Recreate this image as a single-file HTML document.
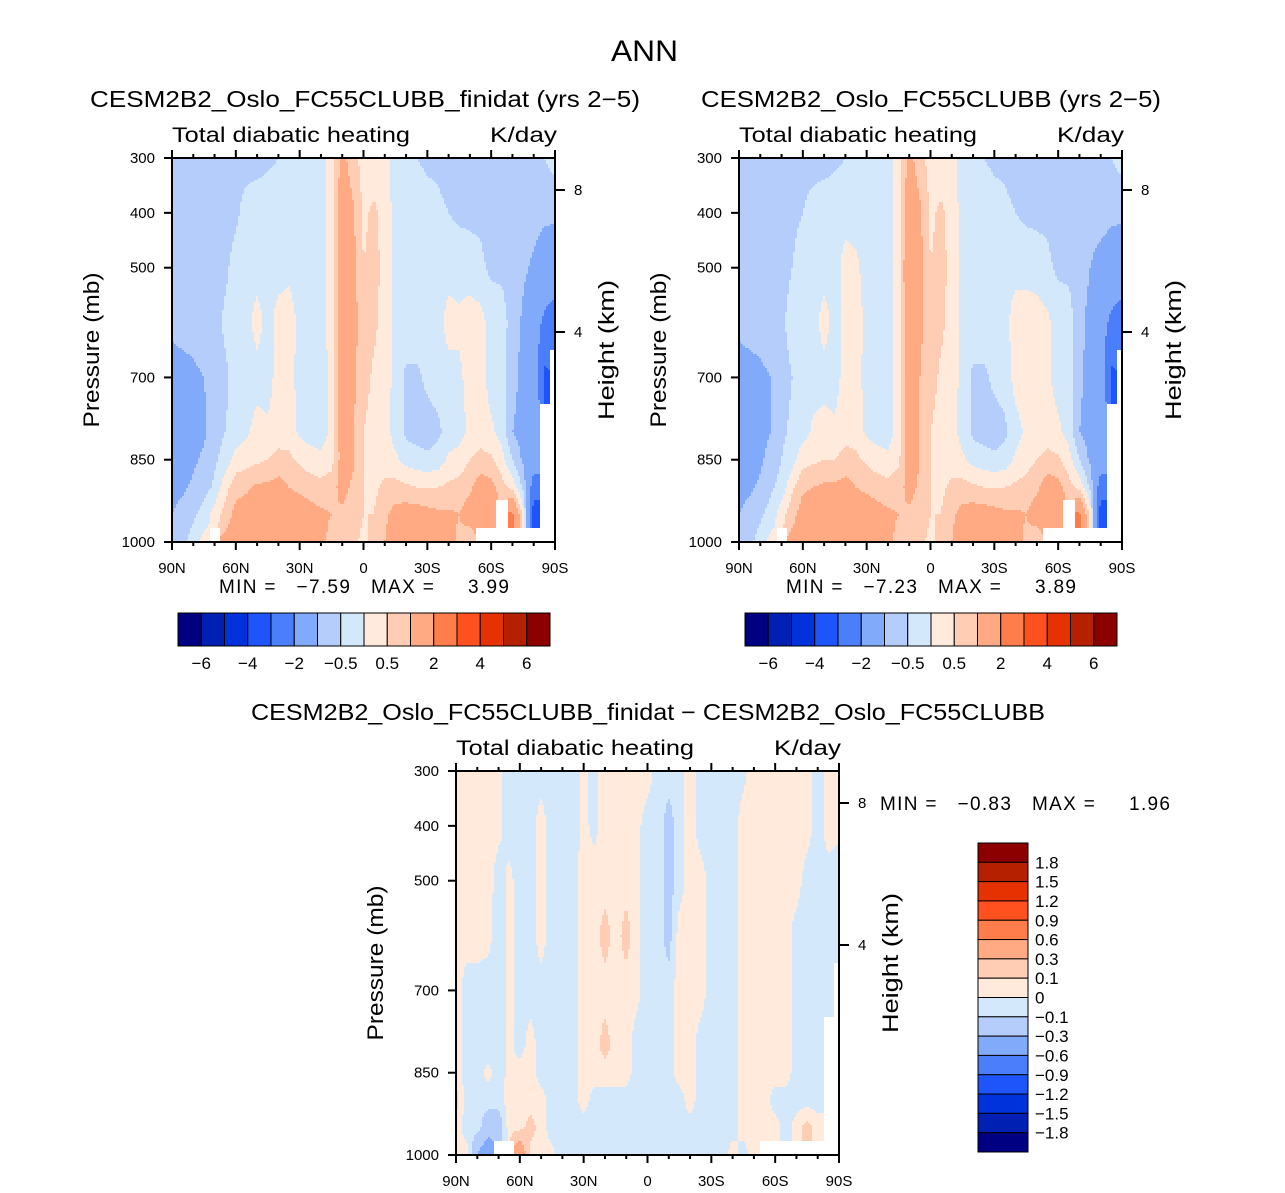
<!DOCTYPE html>
<html><head><meta charset="utf-8"><style>
html,body{margin:0;padding:0;background:#fff;}
svg{display:block;font-family:"Liberation Sans",sans-serif;}
text{white-space:pre;}
</style></head><body>
<svg id="root" width="1285" height="1193" viewBox="0 0 1285 1193">
<text x="611" y="61" font-size="30" textLength="67" lengthAdjust="spacingAndGlyphs">ANN</text>
</svg>
<script>
// latitude columns 90N..90S every 5 deg; pressure levels
const lats = [90,85,80,75,70,65,60,55,50,45,40,35,30,25,20,15,10,5,0,-5,-10,-15,-20,-25,-30,-35,-40,-45,-50,-55,-60,-65,-70,-75,-80,-85,-90];
const levels = [300,400,500,600,700,800,850,900,950,1000];
const N = NaN;
const fieldA = [
[-0.7,-0.7,-0.7,-0.9,-1.2,-1.3,-1.3,-1.2,-1.0,-0.8],
[-0.7,-0.7,-0.7,-0.8,-1.2,-1.3,-1.3,-1.1,-0.8,-0.6],
[-0.7,-0.7,-0.7,-0.8,-1.1,-1.2,-1.1,-0.9,-0.6,-0.3],
[-0.7,-0.7,-0.7,-0.7,-1.0,-1.1,-0.9,-0.7,-0.3,0.2],
[-0.7,-0.7,-0.7,-0.7,-0.8,-0.7,-0.6,-0.4,0.2,N],
[-0.7,-0.7,-0.6,-0.4,-0.6,-0.5,-0.3,0.3,0.7,1.2],
[-0.7,-0.6,-0.3,-0.3,-0.3,-0.3,0.2,0.8,1.2,1.3],
[-0.7,-0.3,-0.2,-0.2,-0.3,-0.1,0.3,0.9,1.3,1.4],
[-0.7,-0.2,-0.2,0.2,-0.2,0.2,0.4,1.1,1.4,1.4],
[-0.6,-0.2,-0.2,-0.2,-0.2,0.1,0.5,1.1,1.4,1.3],
[-0.5,-0.2,-0.2,0.2,0.2,0.2,0.7,1.2,1.3,1.0],
[-0.5,-0.2,-0.1,0.2,0.2,0.3,0.6,1.0,1.3,1.2],
[-0.4,-0.2,-0.2,-0.1,-0.2,-0.1,0.4,0.9,1.3,1.3],
[-0.3,-0.2,-0.2,-0.2,-0.2,-0.2,0.2,0.8,1.2,1.2],
[-0.2,-0.2,-0.2,-0.2,-0.2,-0.2,0.1,0.7,1.1,1.2],
[0.3,0.3,0.2,0.2,0.1,0.1,0.3,0.8,1.0,0.8],
[1.2,1.5,1.6,1.6,1.5,1.4,1.3,1.2,0.9,0.6],
[0.7,1.1,1.2,1.2,1.1,1.1,1.1,0.9,0.7,0.6],
[0.3,0.4,0.5,0.8,0.7,0.5,0.5,0.5,0.5,0.4],
[0.2,0.6,0.7,0.6,0.4,0.3,0.3,0.4,0.5,0.6],
[0.2,0.3,0.3,0.3,0.3,0.2,0.3,0.6,0.9,1.0],
[-0.2,-0.2,-0.2,-0.2,-0.2,-0.2,0.1,0.7,1.2,1.3],
[-0.3,-0.2,-0.2,-0.2,-0.6,-0.6,-0.2,0.6,1.3,1.4],
[-0.5,-0.2,-0.2,-0.2,-0.6,-0.7,-0.3,0.5,1.3,1.4],
[-0.6,-0.3,-0.2,-0.2,-0.4,-0.7,-0.4,0.5,1.2,1.4],
[-0.6,-0.4,-0.2,-0.2,-0.3,-0.6,-0.3,0.5,1.1,1.3],
[-0.7,-0.5,-0.2,0.2,-0.2,-0.3,0.1,0.6,1.1,1.2],
[-0.7,-0.6,-0.2,0.1,-0.1,-0.2,0.2,0.7,1.0,0.9],
[-0.7,-0.6,-0.3,0.3,0.2,0.1,0.5,0.9,1.3,0.6],
[-0.7,-0.6,-0.4,0.2,0.2,0.2,0.7,1.3,1.6,N],
[-0.7,-0.7,-0.6,-0.2,-0.2,0.1,0.6,1.2,1.8,N],
[-0.7,-0.7,-0.6,-0.3,-0.3,-0.2,0.2,0.7,N,N],
[-0.7,-0.7,-0.7,-0.7,-0.8,-1.0,-0.5,0.3,2.2,N],
[-0.6,-0.7,-0.9,-1.1,-1.2,-1.2,-1.1,-0.6,0.3,N],
[-0.5,-0.8,-1.1,-1.5,-1.3,-1.3,-1.5,-2.5,-3.5,N],
[-0.5,-0.9,-1.3,-2.2,-3.2,N,N,N,N,N],
[-0.3,-0.9,-1.4,-2.5,N,N,N,N,N,N]
];
const fieldB = [
[-0.7,-0.7,-0.7,-0.9,-1.2,-1.3,-1.3,-1.2,-1.0,-0.8],
[-0.7,-0.7,-0.7,-0.8,-1.2,-1.3,-1.3,-1.1,-0.8,-0.6],
[-0.7,-0.7,-0.7,-0.8,-1.1,-1.2,-1.1,-0.9,-0.6,-0.3],
[-0.7,-0.7,-0.7,-0.7,-1.0,-1.0,-0.8,-0.6,-0.3,0.2],
[-0.7,-0.7,-0.7,-0.6,-0.7,-0.6,-0.5,-0.3,0.3,N],
[-0.7,-0.6,-0.5,-0.3,-0.5,-0.4,-0.2,0.4,0.8,1.2],
[-0.7,-0.5,-0.3,-0.3,-0.3,-0.2,0.3,0.9,1.3,1.3],
[-0.7,-0.3,-0.2,-0.2,-0.2,0.1,0.4,1.0,1.4,1.4],
[-0.7,-0.2,-0.2,0.2,-0.2,0.2,0.5,1.1,1.4,1.4],
[-0.6,-0.2,-0.2,-0.2,-0.2,0.1,0.5,1.1,1.4,1.3],
[-0.5,-0.2,0.2,0.2,0.2,0.3,0.7,1.2,1.3,1.0],
[-0.5,-0.2,0.1,0.2,0.2,0.3,0.6,1.0,1.3,1.2],
[-0.4,-0.2,-0.2,-0.1,-0.2,-0.1,0.4,0.9,1.3,1.3],
[-0.3,-0.2,-0.2,-0.2,-0.2,-0.2,0.2,0.8,1.2,1.2],
[-0.2,-0.2,-0.2,-0.2,-0.2,-0.2,0.1,0.7,1.1,1.2],
[0.3,0.3,0.3,0.3,0.2,0.2,0.4,0.8,1.0,0.8],
[1.2,1.5,1.7,1.6,1.5,1.4,1.3,1.2,0.9,0.6],
[0.7,1.1,1.2,1.1,1.0,1.0,1.0,0.9,0.7,0.6],
[0.3,0.4,0.5,0.8,0.7,0.5,0.5,0.5,0.5,0.4],
[0.2,0.6,0.7,0.6,0.4,0.3,0.3,0.4,0.5,0.6],
[0.2,0.3,0.3,0.3,0.3,0.2,0.3,0.6,0.9,1.0],
[-0.2,-0.2,-0.2,-0.2,-0.2,-0.2,0.1,0.7,1.2,1.3],
[-0.3,-0.2,-0.2,-0.2,-0.6,-0.6,-0.2,0.6,1.3,1.4],
[-0.5,-0.2,-0.2,-0.2,-0.6,-0.7,-0.3,0.5,1.3,1.4],
[-0.6,-0.3,-0.2,-0.2,-0.4,-0.7,-0.4,0.5,1.2,1.4],
[-0.6,-0.4,-0.2,-0.2,-0.3,-0.6,-0.3,0.5,1.1,1.3],
[-0.7,-0.5,-0.2,0.3,0.2,-0.2,0.1,0.6,1.1,1.2],
[-0.7,-0.6,-0.2,0.3,0.3,0.1,0.3,0.7,1.0,0.9],
[-0.7,-0.6,-0.3,0.3,0.2,0.1,0.5,0.9,1.3,0.6],
[-0.7,-0.6,-0.4,0.1,0.1,0.2,0.7,1.3,1.6,N],
[-0.7,-0.7,-0.6,-0.2,-0.2,0.1,0.6,1.2,1.8,N],
[-0.7,-0.7,-0.6,-0.3,-0.3,-0.2,0.2,0.7,N,N],
[-0.7,-0.7,-0.7,-0.8,-0.9,-1.0,-0.5,0.3,2.2,N],
[-0.6,-0.8,-1.0,-1.2,-1.2,-1.2,-1.1,-0.6,0.3,N],
[-0.5,-0.8,-1.2,-1.6,-1.4,-1.3,-1.5,-2.5,-3.5,N],
[-0.5,-0.9,-1.3,-2.2,-3.2,N,N,N,N,N],
[-0.3,-0.9,-1.4,-2.5,N,N,N,N,N,N]
];
const fieldD = [
[0.05,0.05,0.05,0.05,0.05,0.05,0.05,0.15,0.05,0.05],
[0.05,0.05,0.05,0.05,-0.05,-0.05,-0.05,-0.05,-0.05,0.05],
[0.05,0.05,0.05,0.05,-0.05,-0.05,-0.05,-0.05,-0.05,-0.3],
[0.05,0.05,0.05,0.03,-0.05,-0.05,0.03,-0.05,-0.2,-0.5],
[0.03,0.03,-0.05,-0.05,-0.05,-0.05,-0.05,-0.05,-0.2,N],
[-0.05,-0.05,0.03,0.03,0.03,0.03,0.03,0.05,0.05,N],
[-0.05,-0.05,-0.05,-0.05,-0.05,-0.05,0.05,0.05,0.05,0.6],
[-0.05,-0.05,-0.05,-0.05,-0.05,0.05,0.05,0.05,0.15,0.05],
[-0.05,0.05,0.05,0.05,-0.05,-0.05,-0.05,0.05,0.05,0.05],
[-0.05,-0.05,-0.05,-0.05,-0.05,-0.05,-0.05,-0.05,-0.05,0.03],
[-0.05,-0.05,-0.05,-0.05,-0.05,-0.05,-0.05,-0.05,-0.05,-0.05],
[-0.05,-0.05,-0.05,-0.05,-0.05,-0.05,-0.05,-0.05,-0.05,-0.05],
[0.03,0.03,0.05,0.05,0.05,0.05,0.05,0.05,-0.05,-0.05],
[-0.03,-0.03,0.05,0.05,0.05,0.05,0.05,-0.05,-0.05,-0.05],
[0.05,0.05,0.05,0.15,0.05,0.15,0.05,-0.05,-0.05,-0.05],
[0.05,0.05,0.05,0.05,0.05,0.05,0.05,-0.05,-0.05,-0.05],
[0.05,0.05,0.05,0.15,0.05,0.05,0.05,-0.05,-0.05,-0.05],
[0.05,0.03,0.03,0.03,0.03,-0.05,-0.05,-0.05,-0.05,-0.05],
[0.05,-0.05,-0.05,-0.05,-0.05,-0.05,-0.05,-0.05,-0.05,-0.05],
[-0.05,-0.05,-0.05,-0.05,-0.05,-0.05,-0.05,-0.05,-0.05,-0.05],
[-0.05,-0.15,-0.15,-0.15,-0.05,-0.05,-0.05,-0.05,-0.05,-0.05],
[-0.05,-0.05,-0.05,0.05,0.05,0.05,0.05,-0.05,-0.05,-0.05],
[0.05,0.05,0.05,0.05,0.05,0.05,0.05,0.05,-0.05,-0.05],
[-0.05,-0.05,0.05,0.05,0.05,-0.05,-0.05,-0.05,-0.05,-0.05],
[-0.05,-0.05,-0.05,-0.05,-0.05,-0.05,-0.05,-0.05,-0.05,-0.05],
[-0.05,-0.05,-0.05,-0.05,-0.05,-0.05,-0.05,-0.05,-0.05,-0.05],
[-0.05,-0.05,-0.05,-0.05,-0.05,-0.05,-0.05,-0.05,-0.05,0.05],
[-0.03,0.05,0.05,0.05,0.05,0.05,0.05,0.05,0.05,-0.05],
[0.05,0.05,0.05,0.05,0.05,0.05,0.05,0.05,0.05,0.05],
[0.05,0.05,0.05,0.05,0.05,0.05,0.05,0.05,0.05,N],
[0.05,0.05,0.05,0.05,0.05,0.05,0.05,-0.05,0.05,N],
[0.05,0.05,0.05,0.05,0.05,0.05,0.05,-0.05,-0.05,N],
[0.05,0.05,0.05,-0.05,-0.05,-0.05,-0.05,-0.05,0.05,N],
[0.05,0.05,-0.05,-0.05,-0.05,-0.05,-0.05,-0.05,0.15,N],
[-0.05,-0.05,-0.05,-0.05,-0.05,-0.05,-0.05,-0.05,0.05,N],
[0.05,0.05,-0.05,-0.05,-0.05,N,N,N,N,N],
[0.05,0.05,-0.1,-0.1,N,N,N,N,N,N]
];
const colors = ['#000082','#0020b4','#0032dc','#1e55fa','#4a7efa','#82aafa','#b4cdfa','#d4e8fc','#ffeadb','#ffcdb4','#ffaa82','#ff7d4b','#ff5020','#e63200','#b42000','#8c0000'];
const bounds = [-6,-5,-4,-3,-2,-1,-0.5,0,0.5,1,2,3,4,5,6];
const boundLabels = ['-6','','-4','','-2','','-0.5','','0.5','','2','','4','','6'];
const dbounds = [-1.8,-1.5,-1.2,-0.9,-0.6,-0.3,-0.1,0,0.1,0.3,0.6,0.9,1.2,1.5,1.8];
const dLabels = ['−1.8','−1.5','−1.2','−0.9','−0.6','−0.3','−0.1','0','0.1','0.3','0.6','0.9','1.2','1.5','1.8'];
const pTicks = [300,400,500,700,850,1000];
const latTicks = [90,60,30,0,-30,-60,-90];
const latTickLabels = ['90N','60N','30N','0','30S','60S','90S'];
const hTicks = [8,4];
const hTickPos = [32,174];

const NS='http://www.w3.org/2000/svg';
const root=document.getElementById('root');
function mk(tag,attrs,parent){const e=document.createElementNS(NS,tag);for(const k in attrs)e.setAttribute(k,attrs[k]);(parent||root).appendChild(e);return e;}
function txt(x,y,s,size,anchor,parent,len,adj){const a={x:x,y:y,'font-size':size,'text-anchor':anchor||'start'};if(len){a.textLength=len;a.lengthAdjust=adj||'spacingAndGlyphs';}const t=mk('text',a,parent);t.textContent=s.replace(/-/g,'−');return t;}

function classOf(v,b){let c=0;while(c<b.length&&v>=b[c])c++;return c;}
function sample(field,lat,p){
  let fi=(90-lat)/5; if(fi<0)fi=0; if(fi>lats.length-1)fi=lats.length-1;
  let j=0;while(j<levels.length-2&&p>levels[j+1])j++;
  let fj=j+(p-levels[j])/(levels[j+1]-levels[j]); if(fj<0)fj=0; if(fj>levels.length-1)fj=levels.length-1;
  const ni=Math.round(fi),nj=Math.round(fj);
  if(isNaN(field[ni][nj]))return NaN;
  const i0=Math.min(Math.floor(fi),lats.length-2),j0=Math.min(Math.floor(fj),levels.length-2);
  const tx=fi-i0,ty=fj-j0;let s=0,w=0;
  [[0,0,(1-tx)*(1-ty)],[1,0,tx*(1-ty)],[0,1,(1-tx)*ty],[1,1,tx*ty]].forEach(([a,b,ww])=>{const v=field[i0+a][j0+b];if(!isNaN(v)&&ww>0){s+=v*ww;w+=ww;}});
  return w>0?s/w:field[ni][nj];
}

function panel(name,x0,y0,field,b,mm,showMM){
  const W=383,H=384;
  const g=mk('g',{});
  
  
  const xs=lat=>x0+(90-lat)/180*W;
  const ys=p=>y0+(p-300)/700*H;
  const cg=mk('g',{'shape-rendering':'crispEdges'},g);
  
  
  const step=2;
  for(let y=0;y<H;y+=step){
    const p=300+(y+step/2)/H*700;
    let runC=null,runX=0;
    for(let x=0;;x+=step){
      const end=x>=W;
      let c;
      if(!end){const lat=90-Math.min(x+step/2,W)/W*180;const v=sample(field,lat,p);c=isNaN(v)?-1:classOf(v,b);}
      else c=-2;
      if(c!==runC){
        if(runC!==null&&runC>=0){const r=mk('rect',{x:x0+runX,y:y0+y,width:Math.min(x,W)-runX,height:Math.min(step,H-y),fill:colors[runC]},cg);
          
          }
        runC=c;runX=x;
      }
      if(end)break;
    }
  }
  const ag=mk('g',{stroke:'#000','stroke-width':2,fill:'none'},g);
  
  
  mk('rect',{x:x0,y:y0,width:W,height:H},ag);
  for(let lat=90;lat>=-90;lat-=10){const major=lat%30===0;const x=xs(lat);const L=major?8:4;
    mk('line',{x1:x,y1:y0,x2:x,y2:y0-L},ag);mk('line',{x1:x,y1:y0+H,x2:x,y2:y0+H+L},ag);}
  pTicks.forEach(p=>{mk('line',{x1:x0,y1:ys(p),x2:x0-8,y2:ys(p)},ag);});
  hTickPos.forEach(o=>{mk('line',{x1:x0+W,y1:y0+o,x2:x0+W+10,y2:y0+o},ag);});
  const tg=mk('g',{fill:'#000'},g);
  latTicks.forEach((lat,i)=>{const t=txt(xs(lat),y0+H+31,latTickLabels[i],15,'middle',tg);});
  pTicks.forEach(p=>{const t=txt(x0-17,ys(p)+5,String(p),15,'end',tg);});
  hTicks.forEach((h,i)=>{const t=txt(x0+W+19,y0+hTickPos[i]+5,String(h),15,'start',tg);});
  let t=txt(x0,y0-16,'Total diabatic heating',21,'start',tg,238);
  t=txt(x0+W+2,y0-16,'K/day',21,'end',tg,67);
  t=mk('text',{x:0,y:0,'font-size':22,'text-anchor':'middle',textLength:155,lengthAdjust:'spacingAndGlyphs',transform:`translate(${x0-73},${y0+H/2}) rotate(-90)`},tg);t.textContent='Pressure (mb)';
  
  t=mk('text',{x:0,y:0,'font-size':22,'text-anchor':'middle',textLength:140,lengthAdjust:'spacingAndGlyphs',transform:`translate(${x0+W+59},${y0+H/2}) rotate(-90)`},tg);t.textContent='Height (km)';
  
  if(showMM){t=txt(x0+47,y0+H+51,mm,19,'start',tg,290,'spacing');}
  return g;
}
function hbar(x0,y0){
  const g=mk('g',{});
  
  
  const w=372/16;
  colors.forEach((c,i)=>{const r=mk('rect',{x:x0+i*w,y:y0,width:w,height:33,fill:c,stroke:'#000','stroke-width':1},g);
    });
  boundLabels.forEach((s,i)=>{if(s){const t=txt(x0+(i+1)*w,y0+56,s,17,'middle',g);}});
}
function title(x,y,s,len){const t=mk('text',{x:x,y:y,'font-size':23,textLength:len,lengthAdjust:'spacingAndGlyphs'});t.textContent=s;
  
  }
panel('panel-finidat',172,158,fieldA,bounds,'MIN =   -7.59   MAX =     3.99',true);
hbar(178,613);
panel('panel-control',739,158,fieldB,bounds,'MIN =   -7.23   MAX =     3.89',true);
hbar(745,613);
panel('panel-difference',456,771,fieldD,dbounds,'',false);
title(90,107,'CESM2B2_Oslo_FC55CLUBB_finidat (yrs 2−5)',550);
title(701,107,'CESM2B2_Oslo_FC55CLUBB (yrs 2−5)',460);
title(251,720,'CESM2B2_Oslo_FC55CLUBB_finidat − CESM2B2_Oslo_FC55CLUBB',794);
(function(){
  const g=mk('g',{});
  
  
  const h=309/16;
  colors.slice().reverse().forEach((c,i)=>{const r=mk('rect',{x:978,y:843+i*h,width:50,height:h,fill:c,stroke:'#000','stroke-width':1},g);
    });
  dLabels.slice().reverse().forEach((s,i)=>{const t=mk('text',{x:1035,y:843+(i+1)*h+6,'font-size':17},g);t.textContent=s;
    });
  const t=txt(880,810,'MIN =   −0.83   MAX =     1.96',19,'start',g,290,'spacing');
})();
</script>
</body></html>
